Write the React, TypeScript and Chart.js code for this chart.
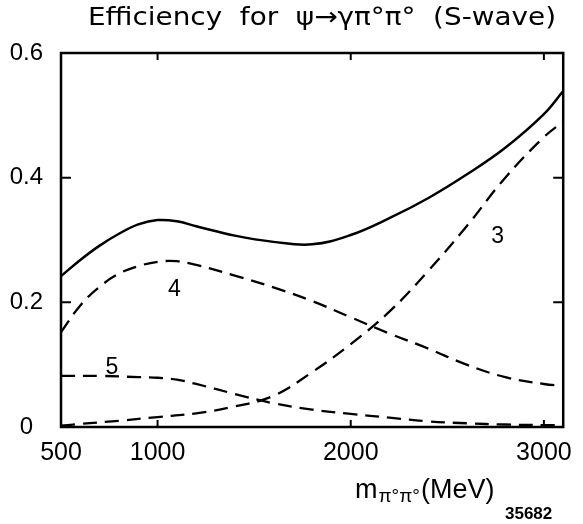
import React, { useEffect, useRef } from "react";
import { Chart, registerables } from "chart.js";

Chart.register(...registerables);

const TITLE = "Efficiency  for  ψ→γπ°π°  (S-wave)";

const massTotal = [500, 600, 700, 800, 900, 1000, 1100, 1200, 1400, 1600, 1800, 2000, 2200, 2400, 2600, 2800, 3000, 3100];
const effTotal = [0.242, 0.268, 0.291, 0.31, 0.325, 0.332, 0.33, 0.322, 0.307, 0.297, 0.293, 0.308, 0.335, 0.367, 0.405, 0.448, 0.502, 0.539];

const mass3 = [500, 600, 800, 1000, 1200, 1400, 1600, 1800, 2000, 2200, 2400, 2600, 2800, 3000, 3100];
const eff3 = [0.002, 0.005, 0.01, 0.016, 0.022, 0.033, 0.05, 0.088, 0.133, 0.185, 0.25, 0.322, 0.4, 0.465, 0.49];

const mass4 = [500, 600, 700, 800, 900, 1000, 1100, 1200, 1400, 1600, 1800, 2000, 2200, 2400, 2600, 2800, 3000, 3100];
const eff4 = [0.152, 0.195, 0.225, 0.246, 0.258, 0.265, 0.266, 0.26, 0.243, 0.224, 0.202, 0.176, 0.15, 0.126, 0.1, 0.08, 0.069, 0.066];

const mass5 = [500, 700, 900, 1000, 1100, 1200, 1400, 1600, 1800, 2000, 2200, 2400, 2600, 2800, 3000, 3100];
const eff5 = [0.082, 0.082, 0.08, 0.079, 0.076, 0.069, 0.053, 0.038, 0.028, 0.021, 0.015, 0.009, 0.006, 0.004, 0.003, 0.003];

const xTicks = [500, 1000, 2000, 3000];
const yTicks = [0, 0.2, 0.4, 0.6];
const xInnerTicks = [1000, 2000, 3000];
const yInnerTicks = [0.2, 0.4];

const curveLabelText = ["3", "4", "5"];
const curveLabelX = [2760, 1087, 763];
const curveLabelY = [0.305, 0.22, 0.096];

const FONT = "'Liberation Sans', Arial, sans-serif";
const TFONT = "'DejaVu Sans', sans-serif";

const pts = (xs: number[], ys: number[]) => xs.map((x, i) => ({ x, y: ys[i] }));

const framePlugin = {
  id: "frameAndExtras",
  afterDatasetsDraw(chart: any) {
    const { ctx, chartArea: a, scales } = chart;
    const xs = scales.x;
    const ys = scales.y;
    ctx.save();
    ctx.strokeStyle = "#000";
    ctx.lineWidth = 2.5;
    ctx.strokeRect(a.left, a.top, a.right - a.left, a.bottom - a.top);
    ctx.lineWidth = 2;
    ctx.beginPath();
    xInnerTicks.forEach((v) => {
      const px = xs.getPixelForValue(v);
      ctx.moveTo(px, a.bottom);
      ctx.lineTo(px, a.bottom - 7);
      ctx.moveTo(px, a.top);
      ctx.lineTo(px, a.top + 7);
    });
    yInnerTicks.forEach((v) => {
      const py = ys.getPixelForValue(v);
      ctx.moveTo(a.left, py);
      ctx.lineTo(a.left + 10, py);
      ctx.moveTo(a.right, py);
      ctx.lineTo(a.right - 10, py);
    });
    ctx.stroke();

    ctx.fillStyle = "#000";
    ctx.textAlign = "center";
    ctx.textBaseline = "middle";
    ctx.font = `23px ${FONT}`;
    curveLabelText.forEach((t, i) => {
      ctx.fillText(t, xs.getPixelForValue(curveLabelX[i]), ys.getPixelForValue(curveLabelY[i]));
    });

    // title, stretched to the reference width
    ctx.font = `25px ${TFONT}`;
    const tw = ctx.measureText(TITLE).width;
    const target = 468;
    ctx.save();
    ctx.translate(322, 18);
    ctx.scale(target / tw, 1);
    ctx.textAlign = "center";
    ctx.textBaseline = "middle";
    ctx.fillText(TITLE, 0, 0);
    ctx.restore();

    // x axis title with subscript
    ctx.textAlign = "left";
    ctx.textBaseline = "alphabetic";
    let x = 355;
    const base = 498;
    ctx.font = `27px ${FONT}`;
    ctx.fillText("m", x, base);
    x += ctx.measureText("m").width + 1;
    ctx.font = `19px ${FONT}`;
    ctx.fillText("π°π°", x, base + 4);
    x += ctx.measureText("π°π°").width + 1;
    ctx.font = `27px ${FONT}`;
    ctx.fillText("(MeV)", x, base);
    ctx.font = `bold 17px ${FONT}`;
    ctx.fillText("35682", 505, 519);
    ctx.restore();
  },
};

export default function App() {
  const ref = useRef<HTMLCanvasElement>(null);
  useEffect(() => {
    if (!ref.current) return;
    const dashed = [14, 8];
    const common = { borderColor: "#000", pointRadius: 0, tension: 0.4, fill: false };
    const chart = new Chart(ref.current, {
      type: "line",
      data: {
        datasets: [
          { label: "total", data: pts(massTotal, effTotal), borderWidth: 2.5, ...common },
          { label: "3", data: pts(mass3, eff3), borderWidth: 2.3, borderDash: dashed, ...common },
          { label: "4", data: pts(mass4, eff4), borderWidth: 2.3, borderDash: dashed, ...common },
          { label: "5", data: pts(mass5, eff5), borderWidth: 2.3, borderDash: dashed, ...common },
        ],
      },
      options: {
        responsive: false,
        animation: false,
        layout: { padding: { left: 0, right: 8, top: 53, bottom: 0 } },
        plugins: {
          legend: { display: false },
          tooltip: { enabled: false },
          title: { display: false },
        },
        scales: {
          x: {
            type: "linear",
            min: 500,
            max: 3100,
            grid: { display: false, drawTicks: false },
            border: { display: false },
            afterBuildTicks: (s: any) => { s.ticks = xTicks.map((v) => ({ value: v })); },
            afterFit: (s: any) => { s.height = 97; },
            ticks: {
              color: "#000",
              font: { family: FONT, size: 25 },
              padding: 11,
              maxRotation: 0,
              autoSkip: false,
              callback: (v: any) => String(v),
            },
          },
          y: {
            min: 0,
            max: 0.6,
            grid: { display: false, drawTicks: false },
            border: { display: false },
            afterBuildTicks: (s: any) => { s.ticks = yTicks.map((v) => ({ value: v })); },
            afterFit: (s: any) => { s.width = 61; },
            ticks: {
              color: "#000",
              font: { family: FONT, size: 24 },
              padding: 18,
              crossAlign: "center",
              callback: (v: any) => (v === 0 ? "0" : Number(v).toFixed(1)),
            },
          },
        },
      },
      plugins: [framePlugin],
    } as any);
    return () => chart.destroy();
  }, []);
  return (
    <div style={{ position: "absolute", left: 0, top: 0, width: 583, height: 524, background: "#fff" }}>
      <canvas ref={ref} width={583} height={524} />
    </div>
  );
}
